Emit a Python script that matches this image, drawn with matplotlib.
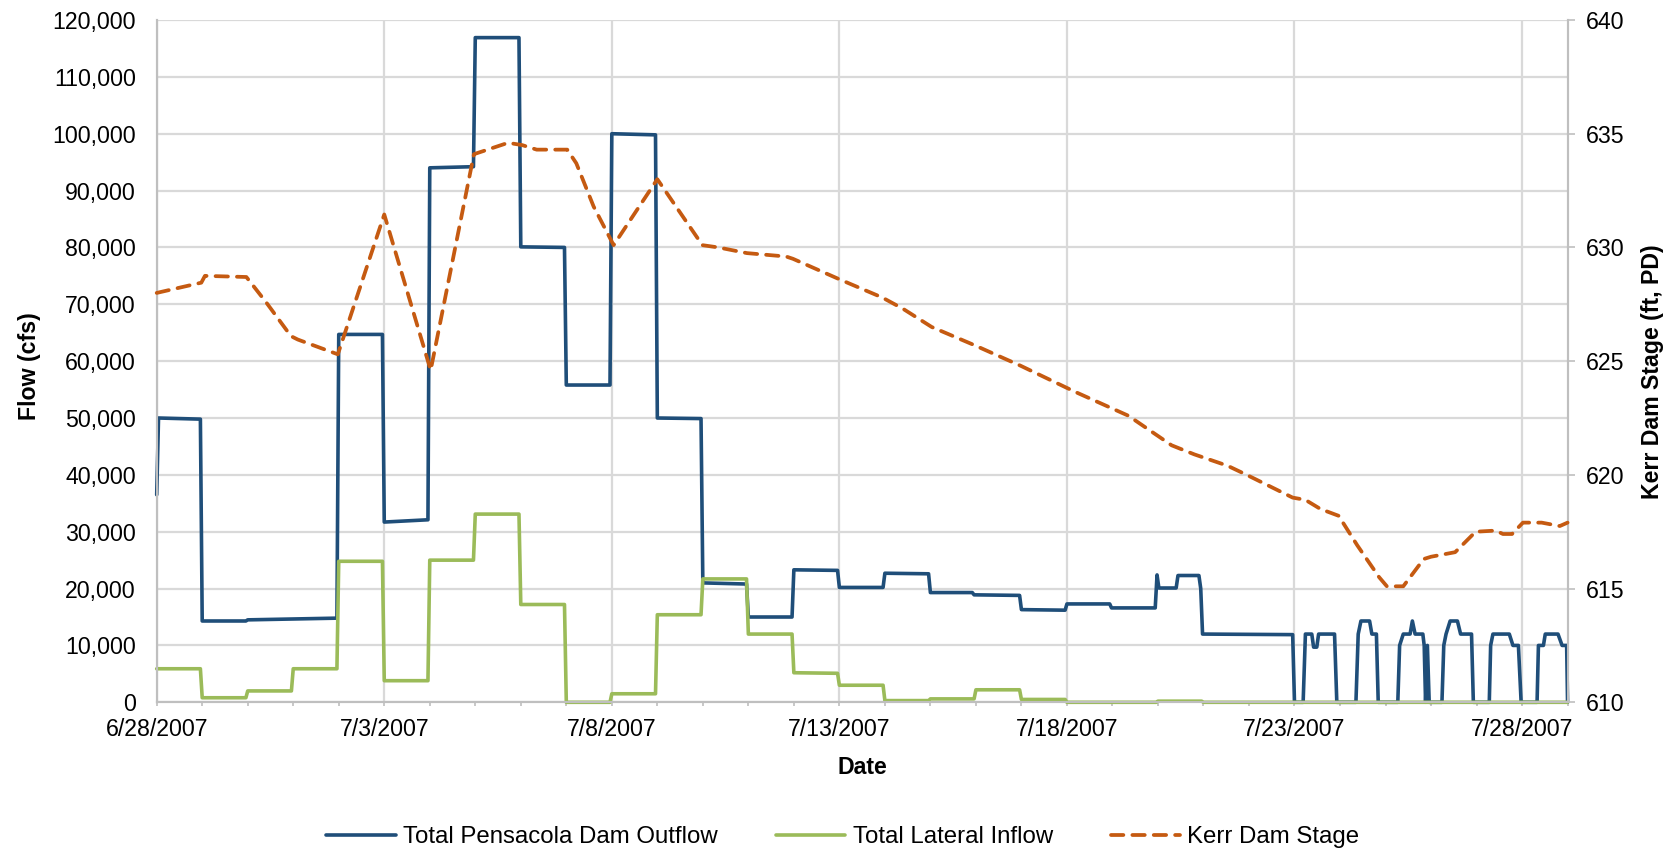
import numpy as np
import pandas as pd
import matplotlib
matplotlib.use("Agg")
import matplotlib.pyplot as plt
import matplotlib.dates as mdates
from matplotlib.ticker import FuncFormatter, FixedLocator, MultipleLocator

plt.rcParams['font.family'] = ['Liberation Sans', 'DejaVu Sans']

# ---------------- data (days since 6/28/2007 00:00) ----------------
start_date = "2007-06-28"

outflow_days = [0.00, 0.04, 0.96, 1.00, 1.96, 2.00, 3.96, 4.00, 4.96, 5.00, 5.96, 6.00,
                6.96, 7.00, 7.96, 8.00, 8.96, 9.00, 9.96, 10.00, 10.96, 11.00, 11.96, 12.00,
                12.96, 13.00, 13.96, 14.00, 14.96, 15.00, 15.96, 16.00, 16.96, 17.00, 17.92, 17.96,
                18.96, 19.00, 19.96, 20.00, 20.94, 20.98, 21.94, 21.98, 22.02, 22.40, 22.44, 22.90,
                22.94, 22.98, 24.96, 25.00, 25.19, 25.24, 25.38, 25.42, 25.49, 25.53, 25.88, 25.93,
                26.35, 26.40, 26.46, 26.65, 26.70, 26.80, 26.84,
                27.27, 27.31, 27.39, 27.54, 27.59, 27.65, 27.82, 27.85, 27.88, 27.92, 27.96,
                28.24, 28.28, 28.33, 28.42, 28.58, 28.65, 28.89, 28.93,
                29.28, 29.31, 29.36, 29.72, 29.80, 29.92, 29.98,
                30.33, 30.36, 30.47, 30.51, 30.79, 30.88, 30.98, 31.00]
outflow_cfs = [36500, 50000, 49800, 14300, 14300, 14500, 14800, 64700, 64700, 31700, 32100, 94000,
               94200, 116900, 116900, 80100, 80000, 55800, 55800, 100000, 99800, 50000, 49900, 21000,
               20800, 15000, 15000, 23300, 23200, 20200, 20200, 22700, 22600, 19300, 19300, 18900,
               18800, 16300, 16200, 17300, 17300, 16600, 16600, 22400, 20100, 20100, 22300, 22300,
               20000, 12000, 11900, 0, 0, 12000, 12000, 9700, 9700, 12000, 12000, 0,
               0, 12000, 14300, 14300, 12000, 12000, 0,
               0, 10000, 12000, 12000, 14300, 12000, 12000, 10000, 0, 10000, 0,
               0, 10000, 12000, 14300, 14300, 12000, 12000, 0,
               0, 10000, 12000, 12000, 10000, 10000, 0,
               0, 10000, 10000, 12000, 12000, 10000, 10000, 0]

inflow_days = [0.00, 0.96, 1.00, 1.96, 2.00, 2.96, 3.00, 3.96, 4.00, 4.96, 5.00, 5.96,
               6.00, 6.96, 7.00, 7.96, 8.00, 8.96, 9.00, 9.96, 10.00, 10.96, 11.00, 11.96,
               12.00, 12.96, 13.00, 13.96, 14.00, 14.96, 15.00, 15.96, 16.00, 16.96, 17.00, 17.96,
               18.00, 18.96, 19.00, 19.96, 20.00, 21.96, 22.00, 22.96, 23.00, 31.00]
inflow_cfs = [5900, 5900, 800, 800, 2000, 2000, 5900, 5900, 24800, 24800, 3800, 3800,
              25000, 25000, 33100, 33100, 17200, 17200, 0, 0, 1500, 1500, 15400, 15400,
              21700, 21700, 12000, 12000, 5200, 5100, 3000, 3000, 300, 300, 600, 600,
              2200, 2200, 500, 500, 0, 0, 200, 200, 0, 0]

stage_days = [0.00, 0.98, 1.06, 1.97, 2.40, 2.95, 3.10, 3.98, 5.00, 6.02, 6.97, 7.72,
              8.03, 8.35, 9.02, 9.22, 9.60, 10.04, 11.00, 11.99, 12.34, 12.97, 13.83, 13.98,
              15.00, 15.94, 16.40, 17.03, 17.97, 18.53, 18.98, 20.18, 21.35, 22.30, 22.80, 23.53,
              23.95, 24.96, 25.24, 25.57, 25.97, 26.38, 26.86, 27.03, 27.39, 27.84, 28.00, 28.53,
              28.98, 29.42, 29.58, 29.78, 30.02, 30.43, 30.83, 31.00]
stage_ft = [628.0, 628.45, 628.75, 628.7, 627.6, 626.1, 625.95, 625.3, 631.45, 624.6, 634.1, 634.6,
            634.5, 634.3, 634.3, 633.7, 631.8, 630.1, 633.0, 630.1, 630.0, 629.75, 629.6, 629.5,
            628.6, 627.8, 627.3, 626.5, 625.7, 625.2, 624.8, 623.65, 622.6, 621.3, 620.9, 620.4,
            620.0, 619.0, 618.9, 618.5, 618.2, 616.9, 615.5, 615.1, 615.1, 616.3, 616.4, 616.6,
            617.5, 617.55, 617.4, 617.4, 617.9, 617.9, 617.75, 617.9]

series_names = ["Total Pensacola Dam Outflow", "Total Lateral Inflow", "Kerr Dam Stage"]
x_tick_dates = pd.date_range(start_date, periods=7, freq="5D")
flow_ticks = list(range(0, 120001, 10000))
stage_ticks = [610, 615, 620, 625, 630, 635, 640]

# ---------------- figure ----------------
base = mdates.date2num(pd.Timestamp(start_date).to_pydatetime())
xo = base + np.array(outflow_days)
xi = base + np.array(inflow_days)
xs = base + np.array(stage_days)

blue = "#1F4E79"
green = "#9BBB59"
orange = "#C55A11"
grid_c = "#D9D9D9"
axis_c = "#BFBFBF"
fs = 16.7

fig = plt.figure(figsize=(16.77, 8.51), dpi=100)
ax = fig.add_axes([0.09344, 0.17474, 0.8413, 0.80176])
ax2 = ax.twinx()

l1, = ax.plot(xo, outflow_cfs, color=blue, lw=2.6, solid_joinstyle='round',
              solid_capstyle='round', label=series_names[0], zorder=3, clip_on=False)
l2, = ax.plot(xi, inflow_cfs, color=green, lw=2.6, solid_joinstyle='round',
              solid_capstyle='round', label=series_names[1], zorder=4, clip_on=False)
l3, = ax2.plot(xs, stage_ft, color=orange, lw=2.7, dashes=(3.3, 2.4),
               dash_capstyle='round', label=series_names[2], zorder=5, clip_on=False)

ax.set_xlim(base, base + 31)
ax.set_ylim(0, 120000)
ax2.set_ylim(610, 640)

ax.yaxis.set_major_locator(FixedLocator(flow_ticks))
ax.yaxis.set_major_formatter(FuncFormatter(lambda v, p: f"{v:,.0f}"))
ax2.yaxis.set_major_locator(FixedLocator(stage_ticks))

tick_nums = mdates.date2num([d.to_pydatetime() for d in x_tick_dates])
ax.xaxis.set_major_locator(FixedLocator(tick_nums))
ax.xaxis.set_minor_locator(MultipleLocator(1))
ax.xaxis.set_major_formatter(FuncFormatter(
    lambda v, p: (lambda d: f"{d.month}/{d.day}/{d.year}")(mdates.num2date(v))))

ax.grid(True, which='major', color=grid_c, lw=1.6, zorder=0)
ax.set_axisbelow(True)

for a in (ax, ax2):
    a.spines['top'].set_visible(False)
    for s in ('left', 'right', 'bottom'):
        a.spines[s].set_color(axis_c)
        a.spines[s].set_linewidth(1.5)

ax.tick_params(axis='y', length=0, pad=15, labelsize=fs, labelcolor='black')
ax.tick_params(axis='x', which='both', direction='out', length=3.2, width=1.2,
               color=axis_c, pad=8, labelsize=fs, labelcolor='black')
ax2.tick_params(axis='y', direction='out', length=5, width=1.2, color=axis_c,
                pad=8, labelsize=fs, labelcolor='black')

ax.set_xlabel("Date", fontsize=fs, fontweight='bold')
ax.xaxis.set_label_coords(0.5, -0.078)
fig.text(29.5 / 1677, 1 - 366 / 851, "Flow (cfs)", rotation=90, ha='center', va='center',
         fontsize=fs, fontweight='bold')
fig.text(1653 / 1677, 1 - 372 / 851, "Kerr Dam Stage (ft, PD)", rotation=90, ha='center',
         va='center', fontsize=fs, fontweight='bold')

fig.legend(handles=[l1, l2, l3], loc='center', bbox_to_anchor=(843 / 1677, 1 - 837 / 851),
           ncol=3, frameon=False, fontsize=17.3, handlelength=2.9, handletextpad=0.3,
           columnspacing=2.4, borderpad=0, borderaxespad=0)

fig.savefig("out.png", dpi=100)
